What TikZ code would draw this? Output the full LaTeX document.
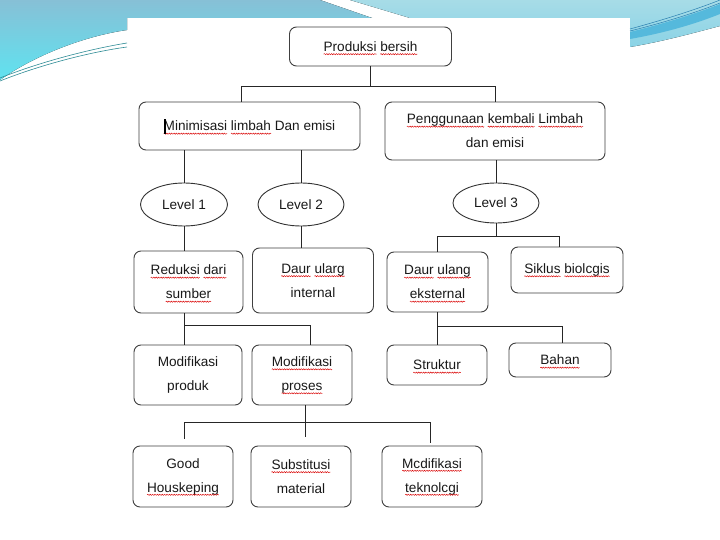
\documentclass[tikz,border=0pt]{standalone}
\usepackage{fontspec}
\setmainfont{Liberation Sans}
\usetikzlibrary{shapes.geometric,decorations.pathmorphing}
\definecolor{bgblue}{HTML}{87C0D6}
\definecolor{bgcyan}{HTML}{5FE3F0}
\definecolor{bglight}{HTML}{A7DCE7}
\definecolor{bgband}{HTML}{55B9DC}
\definecolor{bglow}{HTML}{8AD3E6}
\definecolor{bgline}{HTML}{2A7FB0}
\definecolor{bgteal}{HTML}{2F8C96}
\tikzset{sqline/.style={draw=red!85!black, line width=0.45pt, sharp corners, decorate,
  decoration={snake, amplitude=0.6pt, segment length=2.4pt}}}
\newsavebox\sqbox
\newcommand\sqw[1]{\sbox\sqbox{#1}\usebox\sqbox\tikz[overlay,baseline=0pt]\draw[sqline] (-\wd\sqbox,-2.8pt) -- (0pt,-2.8pt);}
\begin{document}
\begin{tikzpicture}[x=1pt,y=-1pt,
  box/.style={draw=black!75, line width=0.9pt, rounded corners=7pt, align=center,
    inner sep=2pt, text=black!90, font=\fontsize{13.6}{24}\selectfont},
  lvl/.style={ellipse, draw=black!80, line width=0.9pt, inner sep=0pt,
    text=black!90, font=\fontsize{13.6}{24}\selectfont},
  conn/.style={draw=black!85, line width=0.9pt}]
\useasboundingbox (0,0) rectangle (720,540);
\fill[white] (0,0) rectangle (720,540);
% background swooshes
\fill[top color=bgblue, bottom color=bgcyan] (0,0) -- (320,0) -- (372,18) -- (127,18) -- (127,30)
  .. controls (85,36) and (35,55) .. (0,80) -- cycle;
\fill[top color=bglight, bottom color=bglow] (350,0) -- (720,0) -- (720,26)
  .. controls (690,34) and (660,42) .. (630,47) -- (630,18) -- (410,18) -- cycle;
\fill[bgband] (630,32) .. controls (670,22) and (700,12) .. (720,4) -- (720,14)
  .. controls (700,22) and (670,32) .. (630,39) -- cycle;
\draw[bgline, line width=0.5pt] (630,29) .. controls (670,18) and (700,8) .. (720,0);
\draw[bgline, line width=0.5pt] (630,31) .. controls (670,21) and (700,11) .. (720,3);
\draw[bgteal, line width=0.6pt] (0,78) .. controls (40,62) and (90,49) .. (127,43);
\draw[bgteal, line width=0.6pt] (0,81) .. controls (40,65) and (90,52) .. (127,47);
% nodes
\node[box, minimum width=162pt, minimum height=39pt] (prod) at (370.5,46.5) {\sqw{Produksi} \sqw{bersih}};
\node[box, minimum width=221pt, minimum height=48pt] (mini) at (249.5,126) {\sqw{Minimisasi} \sqw{limbah} Dan emisi};
\node[box, minimum width=220pt, minimum height=58pt] (peng) at (495,131) {\sqw{Penggunaan} \sqw{kembali} \sqw{Limbah}\\dan emisi};
\node[lvl, minimum width=87pt, minimum height=43pt] (l1) at (184,204.5) {Level 1};
\node[lvl, minimum width=86pt, minimum height=43pt] (l2) at (301,204.5) {Level 2};
\node[lvl, minimum width=86pt, minimum height=40pt] (l3) at (496,203) {Level 3};
\node[box, minimum width=109pt, minimum height=62pt] (red) at (188.5,282) {\sqw{Reduksi} \sqw{dari}\\\sqw{sumber}};
\node[box, minimum width=121pt, minimum height=65pt] (dint) at (313,280.5) {\sqw{Daur} \sqw{ularg}\\internal};
\node[box, minimum width=101pt, minimum height=60pt] (dext) at (437.5,282) {\sqw{Daur} \sqw{ulang}\\\sqw{eksternal}};
\node[box, minimum width=112pt, minimum height=46pt] (sik) at (567,270) {\sqw{Siklus} \sqw{biolcgis}};
\node[box, minimum width=108pt, minimum height=60pt] (mprod) at (188,375) {Modifikasi\\produk};
\node[box, minimum width=100pt, minimum height=60pt] (mpros) at (302,375) {\sqw{Modifikasi}\\\sqw{proses}};
\node[box, minimum width=100pt, minimum height=40pt] (strk) at (437,365) {\sqw{Struktur}};
\node[box, minimum width=102pt, minimum height=34pt] (bahan) at (560,360) {\sqw{Bahan}};
\node[box, minimum width=100pt, minimum height=61pt] (good) at (183,476.5) {Good\\\sqw{Houskeping}};
\node[box, minimum width=100pt, minimum height=61pt] (subs) at (301,476.5) {\sqw{Substitusi}\\material};
\node[box, minimum width=100pt, minimum height=61pt] (mtek) at (432,476.5) {\sqw{Mcdifikasi}\\\sqw{teknolcgi}};
% text cursor
\fill[black] (163.5,119) rectangle (165.5,134);
% connectors
\coordinate (b1) at (241,86); \coordinate (b2) at (495,86);
\draw[conn] (prod.south) -- (prod.south |- b1);
\draw[conn] (mini.north -| b1) -- (b1) -- (b2) -- (peng.north -| b2);
\draw[conn] (mini.south -| l1.north) -- (l1.north);
\draw[conn] (mini.south -| l2.north) -- (l2.north);
\draw[conn] (l1.south) -- (red.north -| l1.south);
\draw[conn] (l2.south) -- (dint.north -| l2.south);
\draw[conn] (peng.south -| l3.north) -- (l3.north);
\coordinate (b3) at (437,236); \coordinate (b4) at (559,236);
\draw[conn] (l3.south) -- (l3.south |- b3);
\draw[conn] (dext.north -| b3) -- (b3) -- (b4) -- (sik.north -| b4);
\coordinate (b5) at (437,326); \coordinate (b6) at (562,326);
\draw[conn] (dext.south -| b5) -- (b5) -- (b6) -- (bahan.north -| b6);
\draw[conn] (b5) -- (strk.north -| b5);
\coordinate (b7) at (184,325); \coordinate (b8) at (310,325);
\draw[conn] (red.south -| b7) -- (b7) -- (b8) -- (mpros.north -| b8);
\draw[conn] (b7) -- (mprod.north -| b7);
\coordinate (b9) at (184,422); \coordinate (b10) at (430,422); \coordinate (b11) at (305,422);
\draw[conn] (b9) -- (b10);
\draw[conn, shorten >=9pt] (mpros.south -| b11) -- (subs.north -| b11);
\draw[conn, shorten >=7pt] (b9) -- (good.north -| b9);
\draw[conn, shorten >=3pt] (b10) -- (mtek.north -| b10);
\end{tikzpicture}
\end{document}
